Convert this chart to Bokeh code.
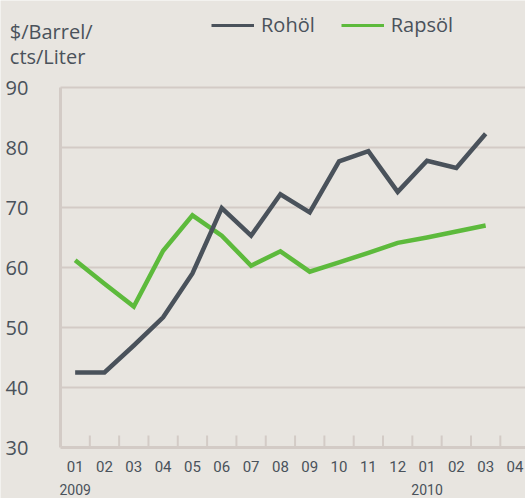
from bokeh.plotting import figure
from bokeh.models import Range1d, FixedTicker, Label, Legend, LegendItem
from bokeh.embed import file_html
from bokeh.resources import INLINE

# ---- data ----
months = ["01", "02", "03", "04", "05", "06", "07", "08", "09", "10", "11", "12",
          "01", "02", "03", "04"]
years = ["2009", "2010"]
year_month_index = [0, 12]
rohoel = [42.5, 42.5, 47.0, 51.7, 59.0, 69.9, 65.3, 72.2, 69.2, 77.7, 79.4, 72.6,
          77.8, 76.6, 82.3]
rapsoel = [61.2, 57.3, 53.5, 62.8, 68.7, 65.3, 60.3, 62.7, 59.3, 60.85, 62.45, 64.1,
           65.0, 66.0, 67.0]
y_ticks = [30, 40, 50, 60, 70, 80, 90]
series_names = ["Rohöl", "Rapsöl"]
axis_title = ["$/Barrel/", "cts/Liter"]

# ---- style ----
BG = "#e8e5e0"
GRID = "#d3cbc6"
TEXT = "#4a525b"
DARK = "#4a525b"
GREEN = "#5dba3c"
FONT = "Open Sans"
TICKFONT = "Roboto"

W, H = 525, 498
n_bands = len(months)
x_centers = [i + 0.5 for i in range(len(rohoel))]
band_bounds = list(range(1, n_bands))

# frame fills the canvas; axes are pinned at x=0 / y=30
p = figure(width=W, height=H, output_backend="svg", toolbar_location=None,
           x_range=Range1d(-2.046, 15.859), y_range=Range1d(21.5, 104.5),
           min_border_left=0, min_border_right=0, min_border_top=0,
           min_border_bottom=0,
           background_fill_color=BG, border_fill_color=BG,
           outline_line_color=None)

# y axis
yax = p.yaxis[0]
yax.fixed_location = 0
yax.bounds = (y_ticks[0], y_ticks[-1])
yax.ticker = FixedTicker(ticks=y_ticks)
yax.axis_line_color = GRID
yax.axis_line_width = 3
yax.major_tick_line_color = None
yax.minor_tick_line_color = None
yax.major_label_standoff = 26
yax.major_label_text_font = FONT
yax.major_label_text_font_size = "20px"
yax.major_label_text_color = TEXT

# x axis
xax = p.xaxis[0]
xax.fixed_location = y_ticks[0]
xax.bounds = (0, n_bands)
xax.ticker = FixedTicker(ticks=[i + 0.5 for i in range(n_bands)])
xax.major_label_overrides = {i + 0.5: m for i, m in enumerate(months)}
xax.axis_line_color = GRID
xax.axis_line_width = 3
xax.major_tick_line_color = None
xax.minor_tick_line_color = None
xax.major_label_standoff = 7
xax.major_label_text_font = TICKFONT
xax.major_label_text_font_size = "15px"
xax.major_label_text_color = TEXT

# grid (drawn only right of the y axis)
p.xgrid.visible = False
p.ygrid.visible = False
gy = y_ticks[1:]
p.segment(x0=[0] * len(gy), y0=gy, x1=[n_bands] * len(gy), y1=gy,
          line_color=GRID, line_width=2)

# band tick marks on the x axis
p.segment(x0=band_bounds, y0=[y_ticks[0]] * len(band_bounds),
          x1=band_bounds, y1=[y_ticks[0] + 2] * len(band_bounds),
          line_color=GRID, line_width=2)

# series
p.line(x_centers, rapsoel, line_color=GREEN, line_width=4.5, line_join="miter")
p.line(x_centers, rohoel, line_color=DARK, line_width=4.5, line_join="miter")

# legend (thinner sample lines; one-point lines draw nothing in the plot)
r1 = p.line(x=x_centers[:1], y=rohoel[:1], line_color=DARK, line_width=3)
r2 = p.line(x=x_centers[:1], y=rapsoel[:1], line_color=GREEN, line_width=3)
legend = Legend(items=[LegendItem(label=series_names[0], renderers=[r1]),
                       LegendItem(label=series_names[1], renderers=[r2])],
                orientation="horizontal", location=(211, 460),
                glyph_width=43, glyph_height=20, label_standoff=7, spacing=26,
                padding=0, margin=0, background_fill_alpha=0, border_line_alpha=0,
                label_text_font=FONT, label_text_font_size="20px",
                label_text_color=TEXT)
p.add_layout(legend)

# axis title
for i, t in enumerate(axis_title):
    p.add_layout(Label(x=9.3, y=H - 30.7 - 25.3 * i, x_units="screen", y_units="screen",
                       text=t, text_font=FONT, text_font_size="20px",
                       text_color=TEXT, text_baseline="alphabetic"))

# years
for yr, idx in zip(years, year_month_index):
    p.add_layout(Label(x=idx + 0.5, y=H - 489, x_units="data", y_units="screen",
                       text=yr, text_font=TICKFONT, text_font_size="14px",
                       text_color=TEXT, text_align="center", text_baseline="middle"))

open("out.html", "w").write(file_html(p, INLINE, title="Rohöl Rapsöl"))
